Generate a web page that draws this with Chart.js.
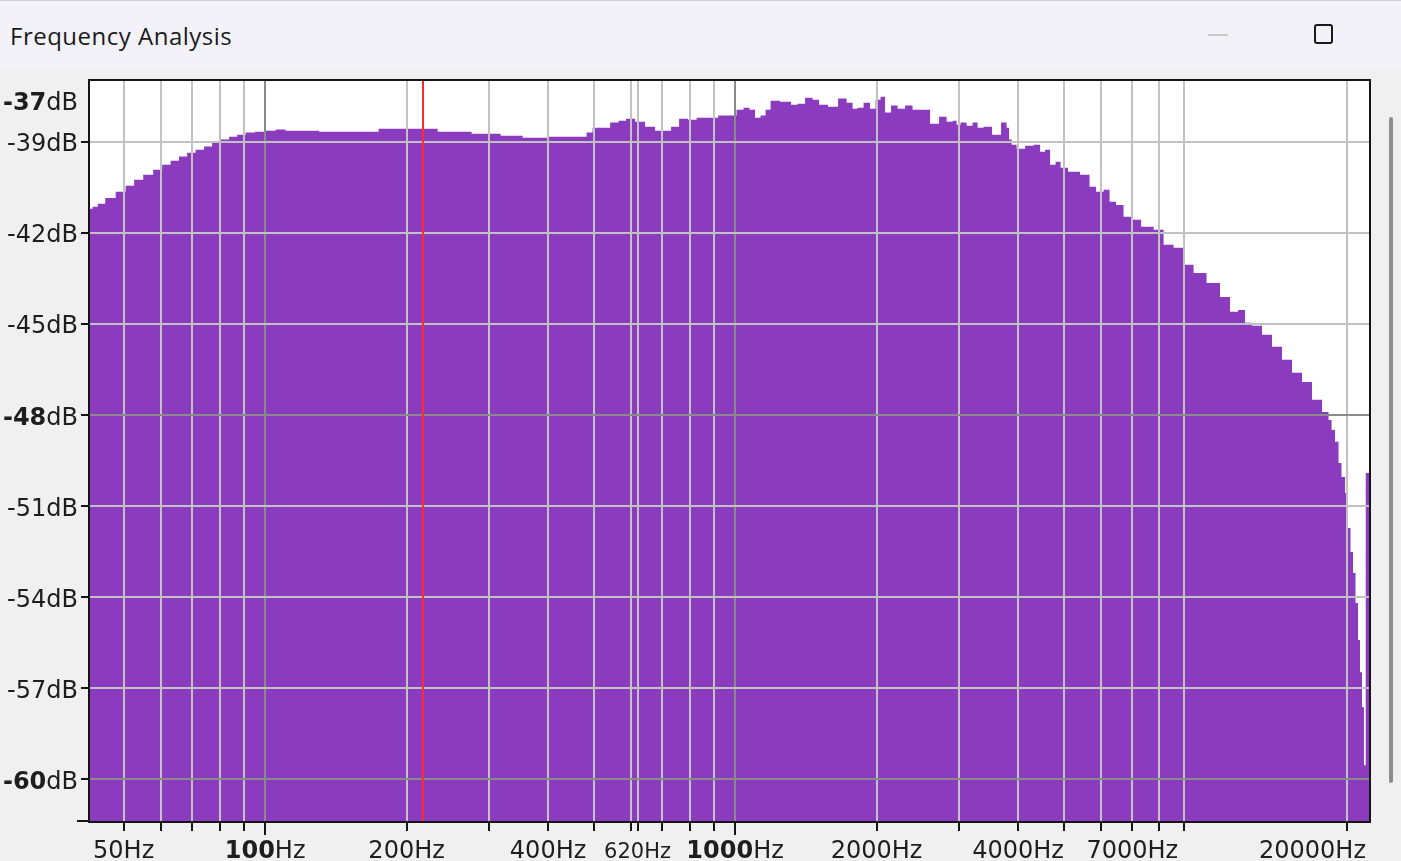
<!DOCTYPE html>
<html>
<head>
<meta charset="utf-8">
<script src="https://cdn.jsdelivr.net/npm/chart.js@4.4.1/dist/chart.umd.min.js"></script>
<style>
  html,body{margin:0;padding:0;}
  body{width:1401px;height:861px;background:#f0f0f0;position:relative;overflow:hidden;}
  #titlebar{position:absolute;left:0;top:0;width:1401px;height:70px;background:#f3f2f8;border-top:1px solid #c9cfdc;box-sizing:border-box;}
  #title{position:absolute;left:10px;top:23px;font:24px/24px "Open Sans",sans-serif;letter-spacing:0.5px;color:#1b1b1b;white-space:nowrap;}
  #minbtn{position:absolute;left:1208px;top:33px;width:20px;height:2px;background:#c8c8c8;}
  #maxbtn{position:absolute;left:1314px;top:23px;width:19px;height:20px;box-sizing:border-box;border:2px solid #1b1b1b;border-radius:3px;}
  #c{position:absolute;left:0;top:70px;}
  #scroll{position:absolute;left:1389px;top:117px;width:4px;height:666px;background:#8d8d8d;border-radius:2px;}
</style>
</head>
<body>
<div id="titlebar">
  <div id="title">Frequency Analysis</div>
  <div id="minbtn"></div>
  <div id="maxbtn"></div>
</div>
<canvas id="c" width="1401" height="791"></canvas>
<div id="scroll"></div>
<script>
// ---- data ----
const freqs = [42.4, 43.5, 44.6, 46.8, 49.4, 51.6, 53.7, 56.4, 59.2, 61.6,
  64.3, 66.9, 69.6, 72.7, 75.6, 78.7, 82.2, 85.5, 88.9, 92.9,
  97.6, 102.5, 108.1, 113, 124.7, 136.2, 159.3, 190.9, 213.7, 253.7,
  298.2, 337.1, 370, 428.5, 474.9, 491.4, 503.6, 528.9, 555.5, 574.9,
  597.9, 628, 659.4, 692.5, 716.7, 745.3, 775.2, 814.2, 842.6, 898.1,
  943, 990.2, 1024.7, 1060.5, 1086.8, 1119.2, 1147.1, 1175.5, 1204.7, 1290.1,
  1341.9, 1375.1, 1444.2, 1480, 1538.9, 1616.3, 1697.5, 1756.8, 1800.2, 1845,
  1909.4, 1966.1, 2015.1, 2064.9, 2105.7, 2189.8, 2244.2, 2356.7, 2415.4, 2536.9,
  2664, 2770.9, 2867, 2938.5, 2982.2, 3056.1, 3162.3, 3240.7, 3321.5, 3437.4,
  3609.4, 3754.3, 3810, 3847.5, 3904.2, 4040.7, 4244, 4392, 4522.7, 4612,
  4749.9, 4867.2, 4988.6, 5237.5, 5608.9, 5749.1, 5979.5, 6187.6, 6340.8, 6594,
  6823.7, 7099.8, 7529.8, 8022.7, 8302.4, 8848.7, 9156.9, 9758.9, 10399, 11138,
  11471, 12047, 12285, 12900, 13548, 14229, 14944, 15695, 16482, 17312,
  18181, 18450, 18722, 19093, 19375, 19660, 20050, 20247, 20546, 20749,
  21055, 21262, 21470, 21683, 21896, 22057, 22330];

const levels = [-41.21, -41.14, -41.04, -40.85, -40.65, -40.45, -40.25, -40.09, -39.92, -39.76,
  -39.63, -39.49, -39.36, -39.26, -39.16, -39.03, -38.93, -38.84, -38.77, -38.70,
  -38.67, -38.64, -38.60, -38.64, -38.64, -38.67, -38.67, -38.57, -38.57, -38.67,
  -38.74, -38.80, -38.87, -38.84, -38.84, -38.70, -38.54, -38.54, -38.37, -38.31,
  -38.24, -38.34, -38.51, -38.64, -38.64, -38.51, -38.24, -38.28, -38.21, -38.21,
  -38.14, -38.14, -37.95, -37.88, -37.95, -38.21, -38.14, -37.95, -37.65, -37.68,
  -37.78, -37.75, -37.55, -37.62, -37.78, -37.85, -37.58, -37.72, -37.91, -37.88,
  -37.72, -37.91, -37.62, -37.52, -38.04, -37.81, -37.91, -37.81, -37.95, -37.95,
  -38.41, -38.18, -38.34, -38.31, -38.44, -38.37, -38.47, -38.37, -38.54, -38.51,
  -38.77, -38.37, -38.54, -38.93, -39.10, -39.23, -39.13, -39.10, -39.33, -39.26,
  -39.76, -39.66, -39.86, -39.99, -40.09, -40.48, -40.65, -40.58, -40.98, -41.08,
  -41.47, -41.57, -41.80, -41.90, -42.39, -42.49, -43.05, -43.32, -43.65, -44.11,
  -44.60, -44.54, -44.96, -45.06, -45.36, -45.75, -46.18, -46.61, -46.91, -47.50,
  -47.90, -48.16, -48.49, -48.88, -49.58, -50.04, -50.57, -51.72, -52.51, -53.20,
  -54.19, -55.41, -56.47, -57.62, -59.53, -49.91, -49.91];

const xTicks = [50, 60, 70, 80, 90, 100, 200, 300, 400, 500, 600, 620, 700, 800, 900,
  1000, 2000, 3000, 4000, 5000, 6000, 7000, 8000, 9000, 20000];
const xMajor = [100, 1000];
const xLabelValues = [50, 100, 200, 400, 620, 1000, 2000, 4000, 7000, 20000];
const xBold = [100, 1000];
const xSmall = [620];

const yTicks = [-60, -57, -54, -51, -48, -45, -42, -39];
const yMajor = [-60, -48];
const yLabelValues = [-37, -39, -42, -45, -48, -51, -54, -57, -60];
const yBold = [-37, -48, -60];

const markerFreq = 217;
const xRange = [42.4, 22330];
const yRange = [-61.37, -37];

const PURPLE = 'rgb(139,59,190)';
const FONT = '"DejaVu Sans", sans-serif';

function drawMixed(ctx, num, unit, bold, size, xPos, yPos, align, maxRight) {
  const fN = (bold ? 'bold ' : '') + size + 'px ' + FONT;
  const fU = size + 'px ' + FONT;
  ctx.font = fN; const wN = ctx.measureText(num).width;
  ctx.font = fU; const wU = ctx.measureText(unit).width;
  const total = wN + wU;
  let left = align === 'right' ? xPos - total : xPos - total / 2;
  if (maxRight !== undefined && left + total > maxRight) left = maxRight - total;
  ctx.textAlign = 'left';
  ctx.font = fN; ctx.fillText(num, left, yPos);
  ctx.font = fU; ctx.fillText(unit, left + wN, yPos);
}

const overlay = {
  id: 'overlay',
  beforeDraw(chart) {
    const {ctx, chartArea: a} = chart;
    ctx.save();
    ctx.fillStyle = '#ffffff';
    ctx.fillRect(a.left, a.top, a.right - a.left, a.bottom - a.top);
    ctx.restore();
  },
  afterDraw(chart) {
    const {ctx, chartArea: a, scales: {x, y}} = chart;
    ctx.save();
    // marker line
    const mx = Math.round(x.getPixelForValue(markerFreq));
    ctx.fillStyle = '#ff2b2b';
    ctx.fillRect(mx - 1, a.top, 2, a.bottom - a.top);
    // frame
    ctx.strokeStyle = '#151515';
    ctx.lineWidth = 2;
    ctx.strokeRect(a.left - 1, a.top - 1, a.right - a.left + 2, a.bottom - a.top + 2);
    // tick marks
    ctx.fillStyle = '#151515';
    yTicks.forEach(v => {
      const py = Math.round(y.getPixelForValue(v));
      ctx.fillRect(a.left - 9, py - 1, 9, 2);
    });
    ctx.fillRect(a.left - 13, a.bottom - 1, 13, 2);
    xTicks.forEach(v => {
      const px = Math.round(x.getPixelForValue(v));
      const len = xMajor.includes(v) ? 13 : 9;
      ctx.fillRect(px - 1, a.bottom + 1, 2, len);
    });
    // labels
    ctx.fillStyle = '#1e1e1e';
    ctx.textBaseline = 'alphabetic';
    yLabelValues.forEach(v => {
      let py = y.getPixelForValue(v);
      if (py < a.top + 19) py = a.top + 19;
      drawMixed(ctx, String(v), 'dB', yBold.includes(v), 24, 78, py + 9.5, 'right');
    });
    xLabelValues.forEach(v => {
      const px = x.getPixelForValue(v);
      const size = xSmall.includes(v) ? 21 : 24;
      drawMixed(ctx, String(v), 'Hz', xBold.includes(v), size, px, a.bottom + 37, 'center', a.right - 3);
    });
    ctx.restore();
  }
};

const points = freqs.map((f, i) => ({x: f, y: levels[i]}));

new Chart(document.getElementById('c'), {
  type: 'line',
  data: {
    datasets: [{
      data: points,
      stepped: 'middle',
      fill: 'start',
      backgroundColor: PURPLE,
      borderColor: PURPLE,
      borderWidth: 0,
      pointRadius: 0,
      tension: 0
    }]
  },
  options: {
    responsive: false,
    animation: false,
    devicePixelRatio: 1,
    layout: {padding: {left: 0, right: 32, top: 11, bottom: 0}},
    plugins: {legend: {display: false}, tooltip: {enabled: false}},
    scales: {
      x: {
        type: 'logarithmic',
        min: xRange[0], max: xRange[1],
        ticks: {display: false, autoSkip: false},
        afterBuildTicks: s => { s.ticks = xTicks.map(v => ({value: v})); },
        afterFit: s => { s.height = 40; },
        grid: {
          z: 1,
          drawTicks: false,
          lineWidth: 2,
          color: c => (c.tick && xMajor.includes(c.tick.value)) ? '#8a8a8a' : '#c2c2c2'
        },
        border: {display: false}
      },
      y: {
        type: 'linear',
        min: yRange[0], max: yRange[1],
        ticks: {display: false},
        afterBuildTicks: s => { s.ticks = yTicks.map(v => ({value: v})); },
        afterFit: s => { s.width = 90; },
        grid: {
          z: 1,
          drawTicks: false,
          lineWidth: 2,
          color: c => (c.tick && yMajor.includes(c.tick.value)) ? '#8a8a8a' : '#c2c2c2'
        },
        border: {display: false}
      }
    }
  },
  plugins: [overlay]
});
</script>
</body>
</html>
